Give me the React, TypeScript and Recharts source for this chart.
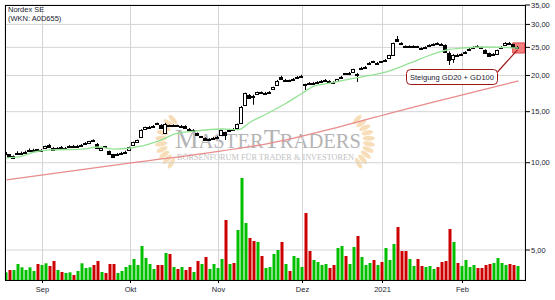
import React from "react";
import {
  ComposedChart,
  Bar,
  Line,
  XAxis,
  YAxis,
  CartesianGrid,
  Cell,
  ReferenceArea,
  ReferenceLine,
} from "recharts";

// month starts (trading-day index) and their labels
const monthTicks = [9, 31, 53, 74, 94, 114];
const monthLabels = ["Sep", "Okt", "Nov", "Dez", "2021", "Feb"];
const priceTicks = [5, 10, 15, 20, 25, 30, 35];

// daily candles, 19.08.2020 .. 19.02.2021
const open = [
  10.7, 10.68, 10.42, 10.76, 10.78, 10.84, 11.02, 11.04, 11.12, 10.98,
  11.22, 11.55, 11.28, 11.15, 11.36, 11.22, 11.36, 11.45, 11.4, 11.46,
  11.58, 11.72, 11.98, 11.62, 11.1, 11.38, 10.98, 10.68, 10.66, 10.74,
  10.82, 11.05, 11.55, 11.8, 12.25, 13.05, 13.22, 13.32, 13.66, 13.52,
  12.7, 13.45, 13.42, 13.46, 13.36, 13.42, 13.12, 12.9, 12.62, 12.22,
  12.2, 12.02, 12.12, 12.22, 12.48, 12.72, 12.86, 13.12, 13.2, 13.72,
  15.85, 17.1, 17.05, 17.2, 17.5, 17.32, 17.45, 17.9, 18.6, 19.8,
  19.22, 19.3, 19.3, 19.6, 19.84, 18.7, 18.9, 18.78, 18.92, 19.06,
  19.22, 19.2, 19.04, 19.18, 19.6, 20.32, 20.28, 20.6, 20.3, 21.05,
  21.3, 21.9, 22.4, 22.0, 22.35, 22.4, 23.05, 23.55, 26.8, 25.95,
  25.3, 25.1, 25.2, 25.2, 24.9, 24.9, 25.4, 25.62, 25.92, 25.76,
  25.5, 24.0, 22.8, 23.6, 23.5, 23.9, 24.4, 24.9, 25.35, 25.05,
  24.55, 23.9, 23.55, 23.8, 24.8, 25.55, 25.95, 25.6, 24.95,
];
const close = [
  10.88, 10.5, 10.55, 10.82, 10.84, 10.92, 11.08, 11.1, 10.95, 11.08,
  11.38, 11.35, 11.1, 11.28, 11.3, 11.28, 11.45, 11.4, 11.46, 11.54,
  11.72, 11.84, 11.85, 11.2, 11.22, 11.3, 10.75, 10.5, 10.76, 10.84,
  10.92, 11.3, 11.75, 11.95, 12.95, 13.24, 13.32, 13.42, 13.56, 13.2,
  13.65, 13.38, 13.5, 13.4, 13.44, 13.22, 12.92, 13.0, 12.42, 12.32,
  12.02, 12.1, 12.2, 12.3, 12.95, 12.5, 13.02, 13.02, 13.55, 15.55,
  17.35, 16.78, 16.8, 17.48, 17.34, 17.45, 17.58, 18.2, 19.2, 19.5,
  19.36, 19.1, 19.5, 19.8, 19.98, 18.62, 18.8, 18.9, 19.04, 19.2,
  19.36, 18.94, 18.96, 19.38, 19.82, 20.2, 20.46, 21.0, 20.0, 21.3,
  21.46, 22.15, 22.2, 22.14, 22.22, 22.7, 23.45, 25.85, 26.3, 25.6,
  25.0, 25.3, 25.32, 25.05, 24.62, 25.1, 25.5, 25.72, 25.84, 25.68,
  24.1, 22.7, 23.5, 23.45, 23.75, 24.15, 24.75, 25.12, 25.22, 24.8,
  23.95, 23.4, 23.78, 24.45, 25.15, 25.95, 25.78, 25.15, 25.15,
];
const high = [
  10.95, 10.72, 10.6, 10.95, 10.92, 11.0, 11.2, 11.18, 11.15, 11.14,
  11.45, 11.62, 11.32, 11.32, 11.42, 11.34, 11.5, 11.52, 11.52, 11.6,
  11.78, 11.9, 12.04, 11.7, 11.28, 11.42, 11.02, 10.72, 10.8, 10.9,
  11.0, 11.36, 11.82, 12.02, 13.05, 13.32, 13.4, 13.5, 13.75, 13.58,
  13.72, 13.52, 13.56, 13.52, 13.5, 13.46, 13.18, 13.06, 12.7, 12.38,
  12.24, 12.16, 12.28, 12.38, 13.0, 12.8, 13.08, 13.18, 13.65, 15.7,
  17.45, 17.25, 17.15, 17.58, 17.6, 17.55, 17.66, 18.3, 19.3, 19.95,
  19.45, 19.35, 19.6, 19.9, 20.1, 18.72, 18.96, 18.98, 19.12, 19.28,
  19.44, 19.26, 19.1, 19.46, 19.92, 20.4, 20.56, 21.1, 20.4, 21.4,
  21.56, 22.26, 22.48, 22.26, 22.45, 22.8, 23.56, 25.95, 27.36, 26.05,
  25.4, 25.4, 25.42, 25.3, 25.0, 25.2, 25.62, 25.82, 26.02, 25.86,
  25.6, 24.2, 23.7, 23.75, 23.85, 24.26, 24.85, 25.22, 25.45, 25.12,
  24.62, 23.98, 23.88, 24.55, 25.25, 26.05, 26.1, 25.7, 25.3,
];
const low = [
  10.65, 10.45, 10.38, 10.7, 10.72, 10.8, 10.98, 10.98, 10.88, 10.94,
  11.18, 11.3, 11.05, 11.1, 11.22, 11.18, 11.32, 11.35, 11.36, 11.42,
  11.54, 11.68, 11.8, 11.14, 11.04, 11.24, 10.7, 10.4, 10.6, 10.7,
  10.78, 11.0, 11.5, 11.74, 12.2, 12.98, 13.15, 13.26, 13.5, 13.12,
  12.62, 13.3, 13.38, 13.34, 13.3, 13.16, 12.86, 12.84, 12.36, 12.16,
  11.96, 11.96, 12.06, 12.16, 12.42, 11.98, 12.8, 12.94, 13.14, 13.65,
  15.75, 16.7, 15.85, 17.12, 17.25, 17.25, 17.38, 17.85, 18.5, 19.4,
  19.15, 19.0, 19.24, 19.52, 19.76, 17.82, 18.7, 18.7, 18.86, 19.0,
  19.16, 18.88, 18.88, 19.1, 19.54, 20.12, 20.2, 20.52, 19.0, 20.96,
  21.22, 21.8, 22.1, 21.92, 22.12, 22.3, 22.95, 23.45, 26.1, 25.45,
  24.9, 25.0, 25.12, 24.96, 24.55, 24.82, 25.32, 25.55, 25.76, 25.6,
  24.0, 21.74, 22.1, 23.3, 23.4, 23.82, 24.3, 24.82, 25.12, 24.72,
  23.88, 23.3, 23.45, 23.72, 24.7, 25.45, 25.65, 25.05, 24.85,
];
// relative turnover
const volume = [
  7.7, 10, 10, 16, 12.7, 10, 12.7, 9, 16, 15,
  16.7, 14, 19, 10, 8, 7, 7.7, 5, 9, 16.7,
  12, 12.7, 15, 19, 8, 7, 16, 16, 7, 9,
  13, 15, 21, 15, 34, 22, 16, 11, 15, 15,
  27, 26, 13, 11, 13, 10, 13, 8, 19, 16,
  23, 11, 16, 12, 21, 60, 16, 17, 50, 102,
  57, 42, 39, 38, 24, 12, 13, 26, 30, 38,
  16, 9, 24, 22, 13, 67, 29, 20, 18, 15,
  16, 12, 15, 32, 34, 24, 16, 33, 44, 23,
  15, 17, 20, 15, 18, 32, 20, 36, 53, 29,
  29, 21, 14, 21, 14, 13, 14, 11, 13, 18,
  19, 51, 38, 17, 14, 20, 13, 15, 12, 12,
  15, 16, 17, 22, 17, 15, 16, 15, 14,
];
// moving averages read at a few points
const gd20Idx = [0, 3, 7, 11, 19, 23, 27, 31, 38, 42, 47, 54, 58, 61, 65, 70, 74, 77, 81, 86, 90, 94, 101, 106, 110, 114, 120, 128];
const gd20Val = [10.39, 10.47, 10.89, 11.07, 11.15, 11.33, 11.15, 11.24, 11.88, 12.56, 12.86, 13.07, 13.0, 13.82, 14.73, 16.07, 17.4, 18.4, 18.84, 19.45, 19.92, 20.4, 22.09, 23.53, 24.48, 24.87, 25.07, 24.87];
const gd100Idx = [0, 33, 50, 66, 83, 96, 110, 123, 128];
const gd100Val = [8.72, 10.06, 10.8, 11.69, 13.28, 14.84, 16.6, 18.4, 19.14];

const rows = close.map((c, i) => ({
  i,
  open: open[i],
  high: high[i],
  low: low[i],
  close: c,
  range: [low[i], high[i]],
  volume: volume[i],
  gd20: gd20Idx.indexOf(i) >= 0 ? gd20Val[gd20Idx.indexOf(i)] : null,
  gd100: gd100Idx.indexOf(i) >= 0 ? gd100Val[gd100Idx.indexOf(i)] : null,
}));

const FONT = "'Liberation Sans', Arial, sans-serif";
const TXT = "#1c1c30";

function Candle(props: any) {
  const { x, y, width, height, payload } = props;
  if (x == null || y == null) return null;
  const cx = Math.round(x + width / 2);
  const hi = Math.log(payload.high);
  const lo = Math.log(payload.low);
  const span = hi - lo || 1;
  const yOf = (v: number) => y + (height * (hi - Math.log(v))) / span;
  const yo = yOf(payload.open);
  const yc = yOf(payload.close);
  const top = Math.round(Math.min(yo, yc));
  const bot = Math.max(Math.round(Math.max(yo, yc)), top + 1);
  const up = payload.close >= payload.open;
  return (
    <g>
      <line x1={cx - 0.5} x2={cx - 0.5} y1={y} y2={y + height} stroke="#000" strokeWidth={1} />
      <rect
        x={cx - 2.5}
        y={top + 0.5}
        width={3}
        height={bot - top}
        fill={up ? "#fff" : "#000"}
        stroke="#000"
        strokeWidth={1}
      />
    </g>
  );
}

// decorative wreath half behind the watermark
function Laurel({ cx, cy, dir }: { cx: number; cy: number; dir: number }) {
  const leaves = [];
  for (let k = 0; k < 10; k++) {
    const a = ((128 + k * 12) * Math.PI) / 180;
    const px = cx + dir * 27 * Math.cos(a);
    const py = cy - 27 * Math.sin(a) * -1;
    const rot = dir * (k * 12 - 60);
    leaves.push(
      <ellipse key={k} cx={px} cy={py} rx={6} ry={2.4}
        transform={`rotate(${rot} ${px} ${py})`} fill="#f6d6a8" />
    );
  }
  return <g opacity={0.8}>{leaves}</g>;
}

function Watermark() {
  return (
    <svg width={555} height={300} style={{ position: "absolute", left: 0, top: 0 }}>
      <Laurel cx={188} cy={142} dir={1} />
      <Laurel cx={342} cy={142} dir={-1} />
      <text x={175} y={148} fill="#b4b4b4" fontFamily="'Liberation Serif', 'DejaVu Serif', serif"
        textLength={186} lengthAdjust="spacingAndGlyphs">
        <tspan fontSize={27}>M</tspan>
        <tspan fontSize={21}>ASTER</tspan>
        <tspan fontSize={27}>T</tspan>
        <tspan fontSize={21}>RADERS</tspan>
      </text>
      <text x={177} y={160} fill="#c2c2c2" fontSize={7.5} fontFamily="'Liberation Serif', serif"
        textLength={177} lengthAdjust="spacingAndGlyphs">
        BÖRSENFORUM FÜR TRADER &amp; INVESTOREN
      </text>
    </svg>
  );
}

function Overlay() {
  return (
    <svg width={555} height={300} style={{ position: "absolute", left: 0, top: 0, pointerEvents: "none" }}>
      <rect x={5.5} y={5.5} width={520} height={275} fill="none" stroke="#000" strokeWidth={1} />
      <text x={8} y={12} fontSize={7.5} fill={TXT} fontFamily={FONT}>Nordex SE</text>
      <text x={8} y={20.5} fontSize={7.5} fill={TXT} fontFamily={FONT}>(WKN: A0D655)</text>
      <rect x={406.5} y={69.5} width={91} height={15} rx={4} fill="#fff" stroke="#9c1414" strokeWidth={1} />
      <text x={452} y={80} fontSize={8} fill={TXT} fontFamily={FONT} textAnchor="middle"
        textLength={84} lengthAdjust="spacingAndGlyphs">Steigung GD20 + GD100</text>
    </svg>
  );
}

export default function App() {
  return (
    <div style={{ position: "absolute", left: 0, top: 0, width: 555, height: 300, background: "#fff" }}>
      <Watermark />
      <div style={{ position: "absolute", left: 0, top: 0 }}>
        <ComposedChart width={555} height={300} data={rows} margin={{ top: 5, right: 0, bottom: 0, left: 5 }}>
          <CartesianGrid xAxisId="x" yAxisId="price" stroke="#d4d4d4" strokeWidth={1} />
          <XAxis
            xAxisId="x"
            dataKey="i"
            type="number"
            domain={[-0.375, 129.625]}
            allowDataOverflow
            ticks={monthTicks}
            interval={0}
            tickFormatter={(v: number) => monthLabels[monthTicks.indexOf(v)]}
            height={20}
            axisLine={false}
            tickLine={{ stroke: "#000" }}
            tickSize={3}
            tickMargin={4}
            tick={{ fontSize: 7.5, fill: TXT, fontFamily: FONT }}
          />
          <XAxis xAxisId="v" dataKey="i" type="number" domain={[-0.375, 129.625]} allowDataOverflow hide height={0} />
          <YAxis
            yAxisId="price"
            orientation="right"
            scale="log"
            domain={[3.94, 35]}
            allowDataOverflow
            ticks={priceTicks}
            interval={0}
            width={30}
            axisLine={false}
            tickLine={{ stroke: "#000" }}
            tickSize={5}
            tickMargin={1}
            tickFormatter={(v: number) => v.toFixed(2).replace(".", ",")}
            tick={{ fontSize: 7.5, fill: TXT, fontFamily: FONT, textAnchor: "start" }}
          />
          <YAxis yAxisId="vol" domain={[0, 275]} allowDataOverflow hide width={0} />
          <Bar xAxisId="v" yAxisId="vol" dataKey="volume" barSize={3} isAnimationActive={false}>
            {rows.map((r) => (
              <Cell key={r.i} fill={r.close >= r.open ? "#00c000" : "#cc0000"} />
            ))}
          </Bar>
          <Line xAxisId="x" yAxisId="price" dataKey="gd100" type="monotone" stroke="#e88c8c" strokeWidth={1.3}
            dot={false} connectNulls isAnimationActive={false} />
          <Line xAxisId="x" yAxisId="price" dataKey="gd20" type="monotone" stroke="#94e294" strokeWidth={1.3}
            dot={false} connectNulls isAnimationActive={false} />
          <ReferenceArea xAxisId="x" yAxisId="price" x1={126.55} x2={129.5} y1={23.9} y2={25.9}
            fill="#f26b6b" fillOpacity={0.85} stroke="#e04a4a" ifOverflow="visible" />
          <Bar xAxisId="x" yAxisId="price" dataKey="range" barSize={4} shape={Candle} isAnimationActive={false} />
          <ReferenceLine xAxisId="x" yAxisId="price" segment={[{ x: 122.75, y: 20.56 }, { x: 127.75, y: 24.5 }]}
            stroke="#a01818" strokeWidth={1.2} ifOverflow="visible" />
        </ComposedChart>
      </div>
      <Overlay />
    </div>
  );
}
